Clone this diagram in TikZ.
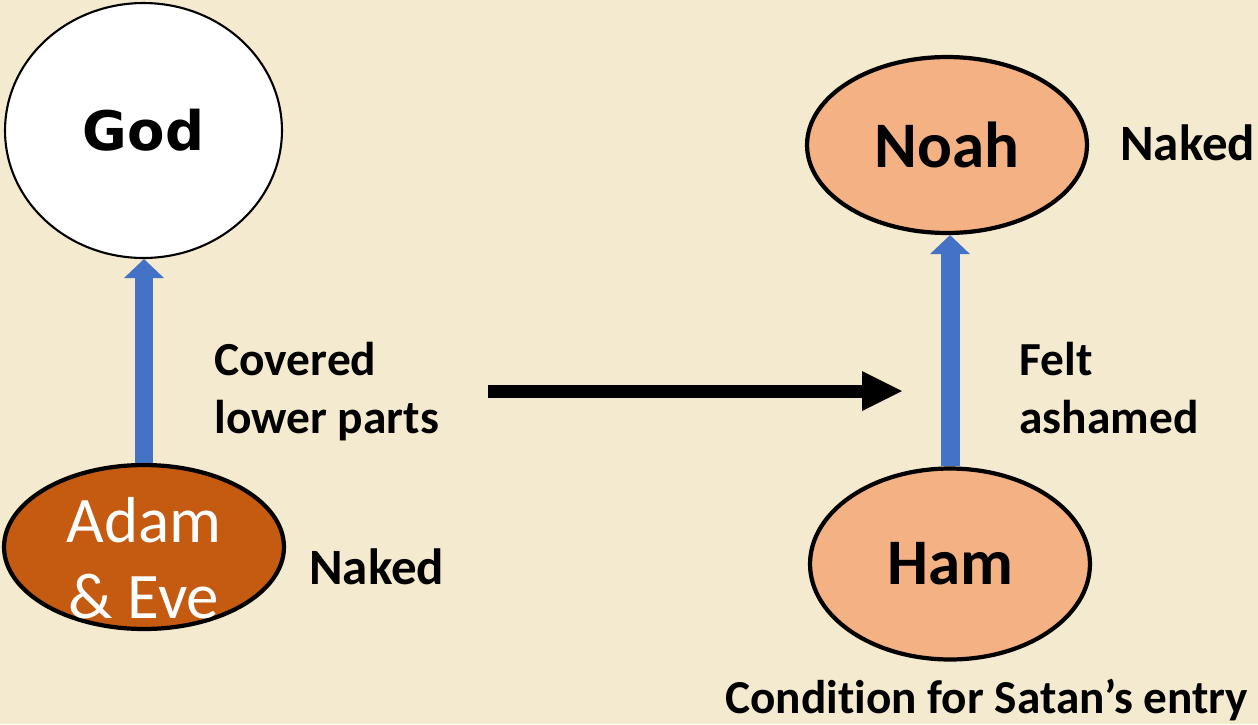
\documentclass[tikz,border=0pt]{standalone}
\usepackage{fontspec}
\setmainfont{Carlito}[Ligatures=NoCommon]
\newfontfamily\godfont{DejaVu Sans}
\usetikzlibrary{shapes.geometric,arrows.meta}

\definecolor{paper}{RGB}{244,234,208}
\definecolor{peach}{RGB}{244,177,131}
\definecolor{rust}{RGB}{197,90,17}
\definecolor{liftblue}{RGB}{68,114,196}

\tikzset{
  person/.style={ellipse, draw=black, line width=2.4pt, fill=peach, inner sep=0pt,
    minimum width=5.6cm, font=\bfseries\fontsize{37}{44}\selectfont},
  side/.style={anchor=base west, inner sep=0pt, align=left,
    font=\bfseries\fontsize{27}{32.5}\selectfont},
  naked/.style={side, font=\bfseries\fontsize{29}{33}\selectfont},
  lift/.style={liftblue, line width=0.38cm,
    -{Triangle[width=0.8cm,length=0.38cm,line width=0pt]}},
  push/.style={black, line width=0.26cm,
    -{Triangle[width=0.8cm,length=0.8cm,line width=0pt]}}
}

\begin{document}
\begin{tikzpicture}[x=0.02cm, y=-0.02cm]

  \fill[paper] (0,0) rectangle (1258,724);
  \useasboundingbox (0,0) rectangle (1258,724);

  \node[person, fill=white, line width=1.2pt, minimum width=5.54cm, minimum height=5.1cm,
    font=\godfont\bfseries\fontsize{31}{36}\selectfont] (god) at (143.5,130.5) {God};
  \node[person, fill=rust, minimum height=3.28cm] (adam) at (144,547) {};
  \node[anchor=base, inner sep=0pt, align=center, text=white,
    font=\fontsize{37}{42.7}\selectfont] (adamtext) at (144,618) {Adam\\\& Eve};

  \node[person, minimum height=3.52cm] (noah) at (947,145) {Noah};
  \node[person, minimum height=3.82cm] (ham) at (950,564) {Ham};

  \node[naked] (nakedleft) at (309,584) {Naked};
  \node[naked] (nakedright) at (1120,160) {Naked};
  \node[side] (covered) at (214,433) {Covered\\lower parts};
  \node[side] (ashamed) at (1019,433) {Felt\\ashamed};
  \node[side, font=\bfseries\fontsize{26.9}{32}\selectfont] (condition) at (725,713)
    {Condition for Satan’s entry};

  \draw[lift] (adam.north) -- (adam.north |- god.south);
  \draw[lift] (ham.north) -- (ham.north |- noah.south);

  \coordinate (pushfrom) at (488,391);
  \coordinate (pushto) at (902,391);
  \draw[push] (pushfrom) -- (pushto);

\end{tikzpicture}
\end{document}
